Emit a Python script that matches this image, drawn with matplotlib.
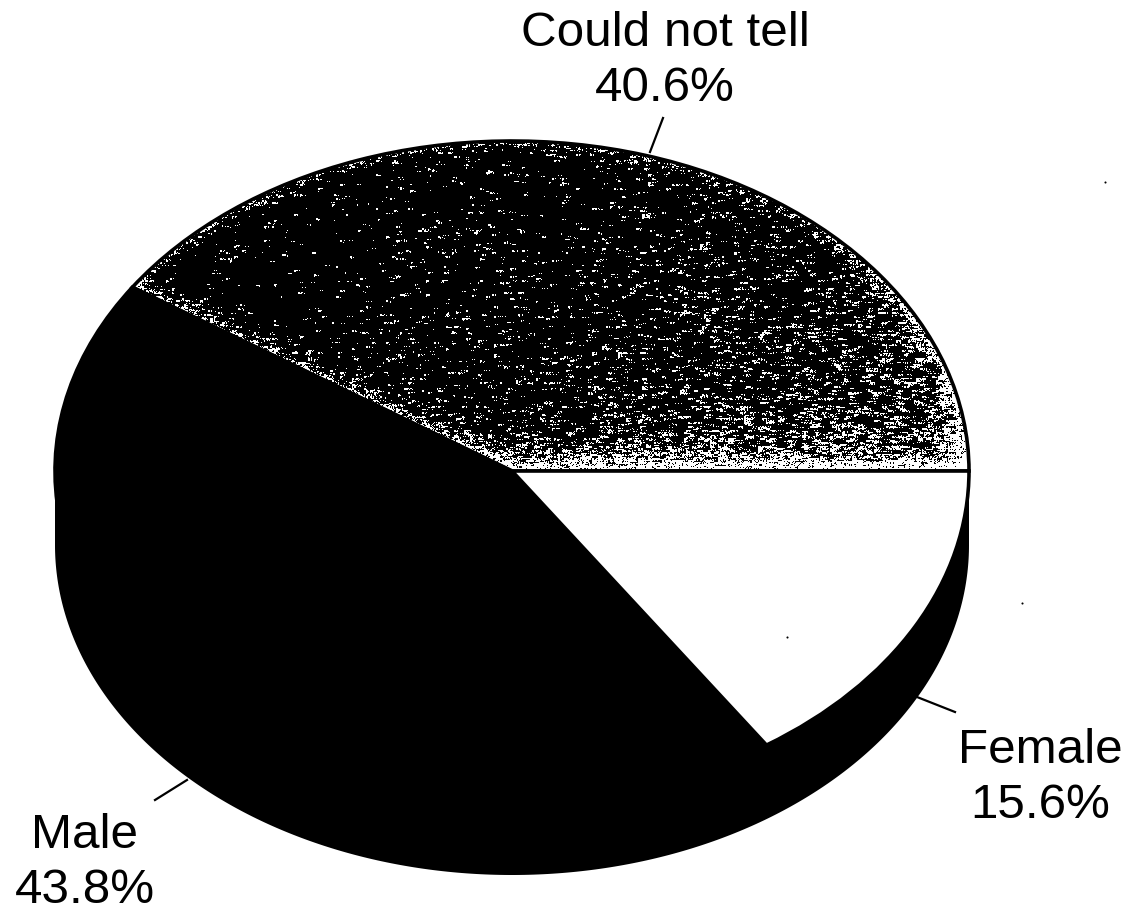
import matplotlib
matplotlib.use("Agg")
import matplotlib.pyplot as plt
import numpy as np

WIDTH = 1130
HEIGHT = 914
CX, CY = 512, 471
RX, RY = 457, 330
DEPTH = 74

labels = ["Could not tell", "Male", "Female"]
shares = [40.6, 43.8, 15.6]
colors = ["none", "black", "white"]

plt.rcParams["font.family"] = ["Liberation Sans", "DejaVu Sans"]


def to_data(x, y):
    return (x - CX) / RX, (CY - y) / RY


def stipple(seed=11):
    # scanned halftone: black with clumped white specks, lighter towards the lower right and the edges
    rng = np.random.default_rng(seed)
    Y, X = np.mgrid[0:HEIGHT, 0:WIDTH]
    u, v = to_data(X + 0.5, Y + 0.5)
    d_arc = (1 - np.hypot(u, v)) * 360
    d_base = np.abs(CY - Y)
    # edge shared with the black wedge runs from the centre to the upper left
    ang = np.deg2rad(shares[0] * 3.6)
    ex, ey = RX * np.cos(ang), RY * np.sin(ang)
    d_edge = np.abs((X - CX) * ey + (Y - CY) * ex) / np.hypot(ex, ey)

    coarse = rng.random((HEIGHT // 24 + 2, WIDTH // 24 + 2))
    patches = np.kron(coarse, np.ones((24, 24)))[:HEIGHT, :WIDTH]
    smooth = np.clip((X - 300) / 560, 0, 1) * np.clip((Y - 170) / 280, 0.2, 1)
    right = np.clip((X - 780) / 180, 0, 1)
    p = 0.006 + 0.05 * smooth + 0.03 * patches * (0.25 + smooth)
    p = p + (0.22 + 0.35 * right) * np.exp(-np.abs(d_arc) / (4 + 5 * right))
    p = p + 0.55 * np.exp(-d_edge / 5)
    p = p + 0.75 * np.exp(-d_base / 8) + 0.10 * np.exp(-d_base / 22)

    # specks two pixels wide, dropped on a half resolution grid
    cells = rng.random((HEIGHT // 2 + 1, WIDTH // 2 + 1))
    blocks = np.kron(cells, np.ones((2, 2)))[:HEIGHT, :WIDTH]
    white = blocks < p
    white |= rng.random(X.shape) < p * 0.4
    # short horizontal streaks from the scanner
    for shift in (1, 2, 3):
        keep = rng.random(X.shape) < 0.18 + 0.25 * smooth
        white |= np.roll(white, shift, axis=1) & keep
    white |= np.roll(white, 1, axis=0) & (rng.random(X.shape) < 0.10)
    return white.astype(float)


def main():
    fig = plt.figure(figsize=(WIDTH / 100, HEIGHT / 100), dpi=100)
    ax = fig.add_axes([0, 0, 1, 1])

    wedges, _ = ax.pie(
        shares,
        colors=colors,
        startangle=0,
        counterclock=True,
        wedgeprops={"edgecolor": "black", "linewidth": 2.6, "zorder": 3},
    )
    ax.set_aspect("auto")
    x0, y0 = to_data(0, HEIGHT)
    x1, y1 = to_data(WIDTH, 0)
    ax.set_xlim(x0, x1)
    ax.set_ylim(y0, y1)
    ax.axis("off")

    # black rim below the front half of the pie
    theta = np.linspace(np.pi, 2 * np.pi, 300)
    depth = DEPTH / RY
    ax.fill(
        np.r_[np.cos(theta), np.cos(theta[::-1])],
        np.r_[np.sin(theta), np.sin(theta[::-1]) - depth],
        color="black",
        lw=0,
        zorder=2,
    )

    im = ax.imshow(
        stipple(),
        cmap="gray",
        vmin=0,
        vmax=1,
        extent=(x0, x1, y0, y1),
        origin="upper",
        interpolation="nearest",
        aspect="auto",
        zorder=1,
    )
    im.set_clip_path(wedges[0])
    ax.set_xlim(x0, x1)
    ax.set_ylim(y0, y1)

    # text anchor and leader line for each slice
    label_xy = [(665, 61), (85, 863), (1040, 778)]
    leaders = [((650, 152), (663, 118)), ((155, 800), (187, 780)), ((917, 697), (955, 712))]
    for name, share, xy, seg in zip(labels, shares, label_xy, leaders):
        ax.text(
            *to_data(*xy),
            f"{name}\n{share}%",
            ha="center",
            va="center",
            fontsize=35.6,
            linespacing=1.27,
            color="black",
            zorder=5,
        )
        (xa, ya), (xb, yb) = to_data(*seg[0]), to_data(*seg[1])
        ax.plot([xa, xb], [ya, yb], color="black", lw=1.6, zorder=4)

    # stray scanner dust
    dust = [(1105, 182), (1022, 603), (787, 637)]
    for x, y in dust:
        ax.plot(*to_data(x, y), "o", color="black", ms=1.5, mew=0, zorder=4)

    fig.savefig("out.png", dpi=100, facecolor="white")
    plt.close(fig)


if __name__ == "__main__":
    main()
